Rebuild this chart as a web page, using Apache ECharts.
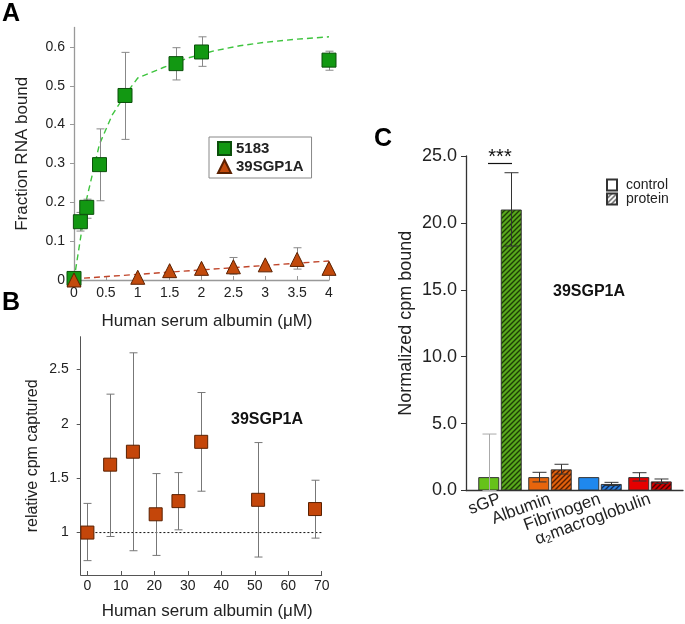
<!DOCTYPE html>
<html><head><meta charset="utf-8">
<script src="https://cdn.jsdelivr.net/npm/echarts@6/dist/echarts.min.js"></script>
<style>html,body{margin:0;padding:0;background:#fff}#c{width:685px;height:624px}</style>
</head><body><div id="c"></div>
<script>
// ---------- Panel A ----------
const aX5183 = [0, 0.1, 0.2, 0.4, 0.8, 1.6, 2, 4];
const aY5183 = [0.004, 0.15, 0.187, 0.297, 0.475, 0.557, 0.587, 0.566];
const aLo5183 = [null, 0.126, 0.159, 0.204, 0.362, 0.515, 0.550, 0.540];
const aHi5183 = [null, 0.174, 0.208, 0.389, 0.586, 0.598, 0.626, 0.589];
const aFitX5183 = [0, 0.2, 0.4, 0.6, 0.8, 1.0, 1.4, 1.8, 2.2, 2.6, 3.0, 3.5, 4];
const aFitY5183 = [0, 0.21, 0.35, 0.425, 0.476, 0.52, 0.547, 0.572, 0.59, 0.603, 0.612, 0.62, 0.626];
const aXSGP = [0, 1, 1.5, 2, 2.5, 3, 3.5, 4];
const aYSGP = [0, 0.007, 0.024, 0.030, 0.034, 0.039, 0.053, 0.030];
const aLoSGP = [null, null, null, null, 0.015, null, 0.028, null];
const aHiSGP = [null, null, null, null, 0.058, null, 0.083, null];
const aFitXSGP = [0, 4];
const aFitYSGP = [0.003, 0.049];
const aXTicks = [0, 0.5, 1, 1.5, 2, 2.5, 3, 3.5, 4];
const aYTicks = [0, 0.1, 0.2, 0.3, 0.4, 0.5, 0.6];

// ---------- Panel B ----------
const bX = [0, 6.8, 13.6, 20.4, 27.2, 34, 51, 68];
const bY = [1.0, 1.624, 1.743, 1.168, 1.289, 1.834, 1.301, 1.216];
const bLo = [0.742, 0.964, 0.833, 0.79, 1.025, 1.38, 0.775, 0.949];
const bHi = [1.268, 2.272, 2.652, 1.542, 1.551, 2.287, 1.827, 1.481];
const bRefX = [0, 70];
const bRefY = 1;
const bXTicks = [0, 10, 20, 30, 40, 50, 60, 70];
const bYTicks = [1, 1.5, 2, 2.5];

// ---------- Panel C ----------
const cCats = ['sGP', 'Albumin', 'Fibrinogen', 'α2macroglobulin'];
const cControl = [1.0, 1.0, 1.0, 1.0];
const cControlLo = [0, 0.64, null, 0.71];
const cControlHi = [4.22, 1.36, null, 1.33];
const cProtein = [21.0, 1.58, 0.49, 0.68];
const cProteinLo = [18.27, 1.23, 0.37, 0.52];
const cProteinHi = [23.75, 1.96, 0.61, 0.86];

const FONT = '"Liberation Sans", Arial, sans-serif';
const TXT = '#222';

function pairs(xs, ys) { return xs.map((x, i) => [x, ys[i]]); }
function errData(xs, lo, hi) {
  const out = [];
  xs.forEach((x, i) => { if (lo[i] != null && hi[i] != null) out.push([x, lo[i], hi[i]]); });
  return out;
}
function errSeries(gi, data, color, capW, dx, z, colorFn) {
  return {
    type: 'custom', xAxisIndex: gi, yAxisIndex: gi, data: data, z: z, silent: true, clip: false,
    encode: { x: 0, y: [1, 2] },
    renderItem: function (params, api) {
      const x = api.value(0), l = api.value(1), h = api.value(2);
      const a = api.coord([x, l]), b = api.coord([x, h]);
      const px = Math.round(a[0] + dx) + 0.5;
      const col = colorFn ? colorFn(params.dataIndex) : color;
      const st = { stroke: col, lineWidth: 1 };
      return { type: 'group', children: [
        { type: 'line', shape: { x1: px, y1: a[1], x2: px, y2: b[1] }, style: st },
        { type: 'line', shape: { x1: px - capW / 2, y1: a[1], x2: px + capW / 2, y2: a[1] }, style: st },
        { type: 'line', shape: { x1: px - capW / 2, y1: b[1], x2: px + capW / 2, y2: b[1] }, style: st }
      ] };
    }
  };
}
function hatch(bg, fg) {
  const c = document.createElement('canvas');
  c.width = 5; c.height = 5;
  const g = c.getContext('2d');
  g.fillStyle = bg; g.fillRect(0, 0, 5, 5);
  g.strokeStyle = fg; g.lineWidth = 1.4;
  g.beginPath();
  g.moveTo(-1, 6); g.lineTo(6, -1);
  g.moveTo(-1, 1); g.lineTo(1, -1);
  g.moveTo(4, 6); g.lineTo(6, 4);
  g.stroke();
  return { image: c, repeat: 'repeat' };
}

const ctrlColors = ['#66c21a', '#e8650c', '#1f88ee', '#e60000'];
const protColors = [hatch('#58a81c', '#1d3d05'), hatch('#e0600c', '#5a1e00'), hatch('#2a80e0', '#0a2a5a'), hatch('#d00000', '#4a0000')];

const chart = echarts.init(document.getElementById('c'), null, { renderer: 'canvas' });

const option = {
  animation: false,
  backgroundColor: '#fff',
  textStyle: { fontFamily: FONT, color: TXT },
  grid: [
    { left: 74, top: 27.5, width: 255, height: 252.5 },
    { left: 80.7, top: 336.7, width: 241, height: 238.3 },
    { left: 466, top: 156, width: 217, height: 334.5 }
  ],
  xAxis: [
    { gridIndex: 0, type: 'value', min: 0, max: 4,
      axisLine: { onZero: false, lineStyle: { color: '#999', width: 1.3 } },
      axisTick: { show: true, inside: true, length: 4, lineStyle: { color: '#999' }, customValues: aXTicks },
      axisLabel: { customValues: aXTicks, fontSize: 14, color: TXT, margin: 6, fontFamily: FONT },
      splitLine: { show: false },
      name: 'Human serum albumin (\u03bcM)', nameLocation: 'middle', nameGap: 33,
      nameTextStyle: { fontSize: 17, color: TXT, fontFamily: FONT, padding: [0, 0, 0, 11] } },
    { gridIndex: 1, type: 'value', min: -2, max: 70,
      axisLine: { onZero: false, lineStyle: { color: '#555', width: 1 } },
      axisTick: { show: true, inside: true, length: 4, lineStyle: { color: '#555' }, customValues: bXTicks },
      axisLabel: { customValues: bXTicks, fontSize: 14, color: TXT, margin: 4, fontFamily: FONT },
      splitLine: { show: false },
      name: 'Human serum albumin (\u03bcM)', nameLocation: 'middle', nameGap: 28,
      nameTextStyle: { fontSize: 17, color: TXT, fontFamily: FONT, padding: [0, 0, 0, 12] } },
    { gridIndex: 2, type: 'value', min: -0.68, max: 3.66,
      axisLine: { onZero: false, lineStyle: { color: '#333', width: 1.3 } },
      axisTick: { show: false },
      axisLabel: { customValues: [0, 1, 2, 3], rotate: 20, fontSize: 16, color: TXT, margin: 8, fontFamily: FONT,
        formatter: function (v) {
          const n = cCats[Math.round(v)];
          if (n.indexOf('α2') === 0) return '{a|α}{s|2}{a|' + n.slice(2) + '}';
          return '{a|' + n + '}';
        },
        rich: { a: { fontSize: 17, color: TXT, fontFamily: FONT }, s: { fontSize: 11, color: TXT, fontFamily: FONT, padding: [8, 0, 0, 0] } } },
      splitLine: { show: false } }
  ],
  yAxis: [
    { gridIndex: 0, type: 'value', min: 0, max: 0.65,
      axisLine: { show: true, onZero: false, lineStyle: { color: '#999', width: 1.3 } },
      axisTick: { show: true, length: 4, lineStyle: { color: '#999' }, customValues: aYTicks },
      axisLabel: { customValues: aYTicks, fontSize: 14, color: TXT, margin: 9, fontFamily: FONT },
      splitLine: { show: false },
      name: 'Fraction RNA bound', nameLocation: 'middle', nameGap: 43, nameRotate: 90,
      nameTextStyle: { fontSize: 17, color: TXT, fontFamily: FONT } },
    { gridIndex: 1, type: 'value', min: 0.61, max: 2.8,
      axisLine: { show: true, onZero: false, lineStyle: { color: '#555', width: 1 } },
      axisTick: { show: true, length: 4, lineStyle: { color: '#555' }, customValues: bYTicks },
      axisLabel: { customValues: bYTicks, fontSize: 14, color: TXT, margin: 12, fontFamily: FONT },
      splitLine: { show: false },
      name: 'relative cpm captured', nameLocation: 'middle', nameGap: 40, nameRotate: 90,
      nameTextStyle: { fontSize: 16, color: TXT, fontFamily: FONT } },
    { gridIndex: 2, type: 'value', min: 0, max: 25, interval: 5,
      axisLine: { show: true, onZero: false, lineStyle: { color: '#333', width: 1.3 } },
      axisTick: { show: true, length: 5, lineStyle: { color: '#333' } },
      axisLabel: { fontSize: 18, color: TXT, margin: 9, fontFamily: FONT, formatter: v => v.toFixed(1) },
      splitLine: { show: false },
      name: 'Normalized cpm bound', nameLocation: 'middle', nameGap: 51, nameRotate: 90,
      nameTextStyle: { fontSize: 18, color: TXT, fontFamily: FONT } }
  ],
  legend: [
    { data: ['5183', '39SGP1A'], orient: 'vertical', left: 209, top: 137,
      padding: [4, 8, 4, 8], itemGap: 3, itemWidth: 13, itemHeight: 13,
      borderColor: '#888', borderWidth: 1, backgroundColor: '#fff',
      textStyle: { fontSize: 15, fontWeight: 'bold', color: TXT, fontFamily: FONT }, selectedMode: false },
    { data: ['control', 'protein'], orient: 'vertical', left: 606, top: 178,
      padding: 0, itemGap: 0, itemWidth: 10, itemHeight: 11, icon: 'rect',
      textStyle: { fontSize: 14, color: TXT, fontFamily: FONT, lineHeight: 11, padding: [0, 0, 0, 4] }, selectedMode: false }
  ],
  series: [
    // Panel A
    { type: 'line', name: 'fit5183', xAxisIndex: 0, yAxisIndex: 0, data: pairs(aFitX5183, aFitY5183),
      showSymbol: false, symbol: 'none', z: 2, lineStyle: { color: '#3ec43e', width: 1.4, type: [6, 4] } },
    { type: 'line', name: 'fitSGP', xAxisIndex: 0, yAxisIndex: 0, data: pairs(aFitXSGP, aFitYSGP),
      showSymbol: false, symbol: 'none', z: 2, lineStyle: { color: '#c0452a', width: 1.4, type: [6, 4] } },
    errSeries(0, errData(aX5183, aLo5183, aHi5183), '#888', 8, 0, 3),
    errSeries(0, errData(aXSGP, aLoSGP, aHiSGP), '#888', 8, 0, 3),
    { type: 'scatter', name: '5183', xAxisIndex: 0, yAxisIndex: 0, data: pairs(aX5183, aY5183), clip: false,
      symbol: 'rect', symbolSize: 14, z: 4, itemStyle: { color: '#129812', borderColor: '#0b4f0b', borderWidth: 1, opacity: 1 } },
    { type: 'scatter', name: '39SGP1A', xAxisIndex: 0, yAxisIndex: 0, data: pairs(aXSGP, aYSGP), clip: false,
      symbol: 'triangle', symbolSize: 14, z: 4, itemStyle: { color: '#c24a0c', borderColor: '#5a2000', borderWidth: 1, opacity: 1 } },
    // Panel B
    { type: 'line', name: 'refB', xAxisIndex: 1, yAxisIndex: 1, data: bRefX.map(x => [x, bRefY]),
      showSymbol: false, symbol: 'none', z: 2, lineStyle: { color: '#111', width: 1, type: [2, 2] } },
    errSeries(1, errData(bX, bLo, bHi), '#777', 8, 0, 3),
    { type: 'scatter', name: 'B39SGP1A', xAxisIndex: 1, yAxisIndex: 1, data: pairs(bX, bY), clip: false,
      symbol: 'rect', symbolSize: 13, z: 4, itemStyle: { color: '#c4460a', borderColor: '#5a2000', borderWidth: 1, opacity: 1 } },
    // Panel C
    { type: 'bar', name: 'control', xAxisIndex: 2, yAxisIndex: 2, barWidth: 21, barGap: '7%', z: 2,
      itemStyle: { color: '#fff', borderColor: '#333', borderWidth: 1 },
      data: cControl.map((v, i) => ({ value: [i, v], itemStyle: { color: ctrlColors[i] } })) },
    { type: 'bar', name: 'protein', xAxisIndex: 2, yAxisIndex: 2, barWidth: 21, z: 2,
      itemStyle: { color: hatch('#fff', '#555'), borderColor: '#333', borderWidth: 1 },
      data: cProtein.map((v, i) => ({ value: [i, v], itemStyle: { color: protColors[i] } })) },
    errSeries(2, errData([0, 1, 2, 3], cControlLo, cControlHi), '#333', 14, -11.2, 5, i => i === 0 ? '#aaa' : '#333'),
    errSeries(2, errData([0, 1, 2, 3], cProteinLo, cProteinHi), '#333', 14, 11.2, 5)
  ],
  graphic: [
    { type: 'text', left: 2, top: 2, style: { text: 'A', font: 'bold 25px ' + FONT, fill: '#000' } },
    { type: 'text', left: 2, top: 291, style: { text: 'B', font: 'bold 25px ' + FONT, fill: '#000' } },
    { type: 'text', left: 374, top: 127, style: { text: 'C', font: 'bold 25px ' + FONT, fill: '#000' } },
    { type: 'text', x: 267, y: 420, style: { text: '39SGP1A', font: 'bold 16px ' + FONT, fill: '#111', align: 'center', verticalAlign: 'middle' } },
    { type: 'text', x: 589, y: 292, style: { text: '39SGP1A', font: 'bold 16px ' + FONT, fill: '#111', align: 'center', verticalAlign: 'middle' } },
    { type: 'text', x: 500, y: 157, style: { text: '***', font: '20px ' + FONT, fill: '#111', align: 'center', verticalAlign: 'middle' } },
    { type: 'line', shape: { x1: 488, y1: 163.5, x2: 512, y2: 163.5 }, style: { stroke: '#111', lineWidth: 1.2 } }
  ]
};
chart.setOption(option);
</script>
</body></html>
